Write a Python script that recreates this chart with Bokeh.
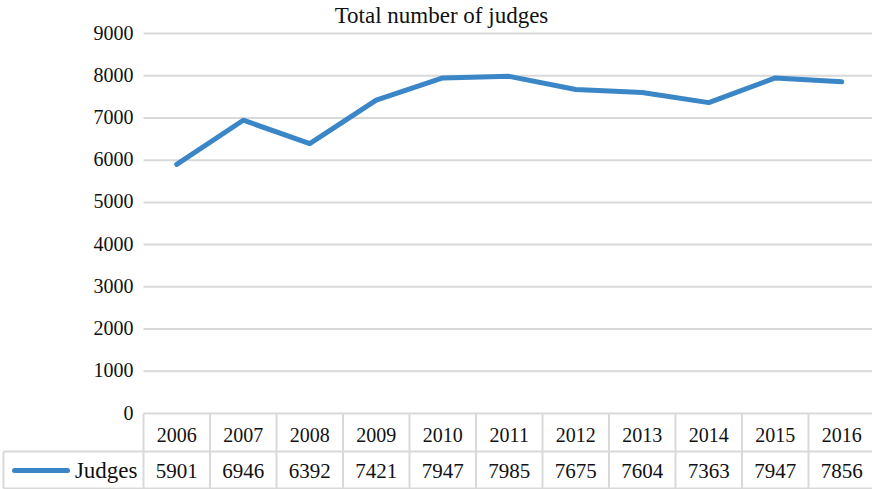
from bokeh.plotting import figure
from bokeh.models import Range1d
from bokeh.core.properties import value
from bokeh.embed import file_html
from bokeh.resources import INLINE

# ---- data ----
years = [2006, 2007, 2008, 2009, 2010, 2011, 2012, 2013, 2014, 2015, 2016]
judges = [5901, 6946, 6392, 7421, 7947, 7985, 7675, 7604, 7363, 7947, 7856]
y_ticks = [0, 1000, 2000, 3000, 4000, 5000, 6000, 7000, 8000, 9000]
series_name = "Judges"
title_text = "Total number of judges"

FONT = value("Liberation Serif")
LINE_COLOR = "#3a86c6"
GRID = "#d9d9d9"
TXT = "#111111"

W, H = 872, 489
col_px = 66.5
left_px = 143.0
zero_px = 413.0
top_px = 33.0

x0 = years[0] - 0.5 - left_px / col_px
x1 = x0 + W / col_px
ppu = (zero_px - top_px) / 9000.0
y_top = zero_px / ppu
y_bot = -(H - zero_px) / ppu

p = figure(width=W, height=H, output_backend="svg", toolbar_location=None,
           x_range=Range1d(x0, x1), y_range=Range1d(y_bot, y_top),
           min_border=0, min_border_left=0, min_border_right=0,
           min_border_top=0, min_border_bottom=0)
p.axis.visible = False
p.grid.visible = False
p.outline_line_color = None
p.background_fill_color = "white"
p.border_fill_color = "white"

# table range: pixel offsets below the table top (inverted)
p.extra_y_ranges = {"tbl": Range1d(start=H - zero_px, end=-zero_px)}

xl = years[0] - 0.5
xr = years[-1] + 0.5
cell_left = x0 + 3 / col_px

# horizontal gridlines
gy = [t for t in y_ticks if t > 0]
p.segment(x0=[xl] * len(gy), x1=[xr] * len(gy), y0=gy, y1=gy,
          line_color=GRID, line_width=2)

# y tick labels
p.text(x=[xl] * len(y_ticks), y=y_ticks, text=[str(t) for t in y_ticks],
       x_offset=-10, y_offset=-1, text_align="right", text_baseline="middle",
       text_font=FONT, text_font_size="20px", text_color=TXT)

# table borders
hdr_h, row_h = 38, 75
p.segment(x0=[xl, cell_left, cell_left], x1=[xr, xr, xr],
          y0=[0, hdr_h, row_h], y1=[0, hdr_h, row_h],
          line_color=GRID, line_width=2, y_range_name="tbl")
vx = [y - 0.5 for y in years] + [xr]
p.segment(x0=vx, x1=vx, y0=[0] * len(vx), y1=[row_h] * len(vx),
          line_color=GRID, line_width=2, y_range_name="tbl")
p.segment(x0=[cell_left], x1=[cell_left], y0=[hdr_h], y1=[row_h],
          line_color=GRID, line_width=2, y_range_name="tbl")

# header and values text
p.text(x=years, y=[21] * len(years), text=[str(y) for y in years],
       text_align="center", text_baseline="middle", text_font=FONT,
       text_font_size="20px", text_color=TXT, y_range_name="tbl")
p.text(x=years, y=[57] * len(years), text=[str(v) for v in judges],
       text_align="center", text_baseline="middle", text_font=FONT,
       text_font_size="21px", text_color=TXT, y_range_name="tbl")

# legend key in table
p.segment(x0=[x0 + 14 / col_px], x1=[x0 + 67 / col_px], y0=[57], y1=[57],
          line_color=LINE_COLOR, line_width=5, line_cap="round",
          y_range_name="tbl")
p.text(x=[xl], y=[57], text=[series_name], x_offset=-6,
       text_align="right", text_baseline="middle", text_font=FONT,
       text_font_size="23px", text_color=TXT, y_range_name="tbl")

# the data line
p.line(x=years, y=judges, line_color=LINE_COLOR, line_width=5,
       line_join="round", line_cap="round")

# title
p.text(x=[(x0 + x1) / 2], y=[9000], text=[title_text], x_offset=5, y_offset=-18,
       text_align="center", text_baseline="middle", text_font=FONT,
       text_font_size="23px", text_color=TXT)

open("out.html", "w").write(file_html(p, INLINE))
